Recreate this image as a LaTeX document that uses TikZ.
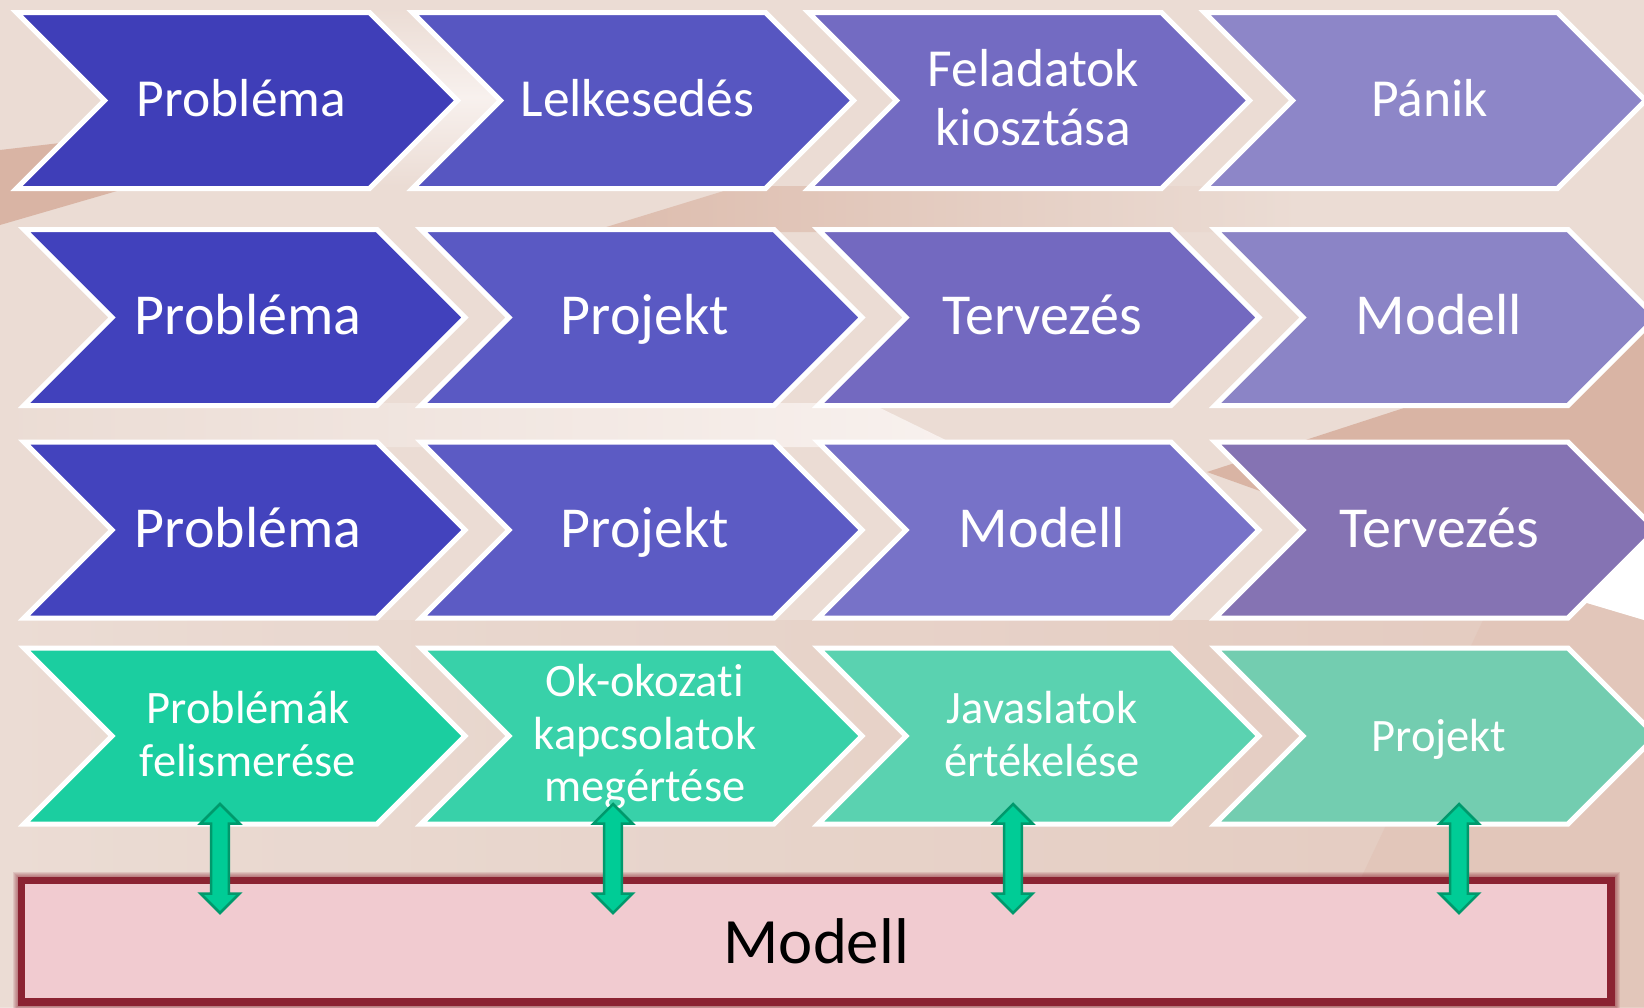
\documentclass[tikz,border=0pt]{standalone}
\usepackage{fontspec}
\setmainfont{Carlito}[Ligatures={NoCommon}]
\usetikzlibrary{calc}
\definecolor{bgbase}{HTML}{EBDCD4}
\definecolor{bgtan}{HTML}{D9B4A4}
\definecolor{bgtanmid}{HTML}{DDBCAD}
\definecolor{bgtanlight}{HTML}{E2C6BA}
\definecolor{bgwhite}{HTML}{F8F1EE}
\definecolor{cA1}{HTML}{3F3EB8}
\definecolor{cA2}{HTML}{5756C1}
\definecolor{cA3}{HTML}{736BC2}
\definecolor{cA4}{HTML}{8D86C8}
\definecolor{cB1}{HTML}{4141BC}
\definecolor{cB2}{HTML}{5A59C3}
\definecolor{cB3}{HTML}{7369C0}
\definecolor{cB4}{HTML}{8B84C6}
\definecolor{cC1}{HTML}{4343BD}
\definecolor{cC2}{HTML}{5C5BC4}
\definecolor{cC3}{HTML}{7772C8}
\definecolor{cC4}{HTML}{8573B3}
\definecolor{cD1}{HTML}{1BCEA0}
\definecolor{cD2}{HTML}{38D1A9}
\definecolor{cD3}{HTML}{5AD2B0}
\definecolor{cD4}{HTML}{73CDB0}
\definecolor{arrdark}{HTML}{00996C}
\definecolor{arrlight}{HTML}{00CC96}
\definecolor{boxborder}{HTML}{8B2332}
\definecolor{boxfill}{HTML}{F1CBD0}
\newcommand\chev[3]{%
  \draw[chevbox, fill=#3] (#1,#2) -- ++(353,0) -- ++(88,88) -- ++(-88,88) -- ++(-353,0) -- ++(88,-88) -- cycle;}
\begin{document}
\begin{tikzpicture}[x=1pt,y=-1pt,
  chevbox/.style={draw=white, line width=5pt, line join=miter},
  lbl/.style={text=white, anchor=base, align=center, inner sep=0pt},
  rowa/.style={lbl, font=\fontsize{53.5}{59}\selectfont},
  rowb/.style={lbl, font=\fontsize{58}{64}\selectfont},
  rowd/.style={lbl, font=\fontsize{46.5}{52.5}\selectfont},
  modellbox/.style={draw=boxborder, fill=boxfill, line width=7.7pt, inner sep=0pt, outer sep=0pt,
    minimum width=1589.5pt, minimum height=121.5pt, font=\fontsize{64.7}{70}\selectfont, text=black},
  glow/.style={draw=boxborder, opacity=0.12},
  dblarr/.style={draw=arrdark, fill=arrlight, line width=2.5pt, line join=miter,
    to path={let \p1=(\tikztostart), \p2=(\tikztotarget) in
      -- (\x1+19.5pt,\y1-19.5pt) -- (\x1+8.8pt,\y1-19.5pt) -- (\x2+8.8pt,\y2+19.5pt)
      -- (\x2+19.5pt,\y2+19.5pt) -- (\x2,\y2) -- (\x2-19.5pt,\y2+19.5pt) -- (\x2-8.8pt,\y2+19.5pt)
      -- (\x1-8.8pt,\y1-19.5pt) -- (\x1-19.5pt,\y1-19.5pt) -- cycle}}]
\useasboundingbox (0,0) rectangle (1644,1007);
\clip (0,0) rectangle (1644,1007);
% background
\fill[bgbase] (0,0) rectangle (1644,1007);
\shade[left color=bgbase, right color=bgtanlight, opacity=0.8] (0,620) rectangle (1644,1007);
\fill[bgtan] (0,150) -- (430,100) -- (0,225) -- cycle;
\shade[left color=bgtanmid, right color=bgbase] (590,232) -- (740,186) -- (1300,186) -- (1300,232) -- cycle;
\shade[left color=bgbase, right color=bgwhite] (0,403) -- (870,403) -- (960,447) -- (0,447) -- cycle;
\shade[top color=bgbase, bottom color=bgbase, middle color=bgwhite] (375,8) rectangle (505,186);
\fill[bgtan] (1207,472) -- (1644,330) -- (1644,545) -- (1503,578) -- cycle;
\fill[bgtanlight] (1503,578) -- (1644,620) -- (1644,1007) -- (1300,1007) -- cycle;
\fill[white] (1503,578) -- (1644,545) -- (1644,620) -- cycle;
% row 1
\chev{16.5}{12.5}{cA1}
\chev{412.5}{12.5}{cA2}
\chev{808.5}{12.5}{cA3}
\chev{1204.5}{12.5}{cA4}
% row 2
\chev{24}{229.5}{cB1}
\chev{421}{229.5}{cB2}
\chev{818}{229.5}{cB3}
\chev{1215}{229.5}{cB4}
% row 3
\chev{24}{442}{cC1}
\chev{421}{442}{cC2}
\chev{818}{442}{cC3}
\chev{1215}{442}{cC4}
% row 4
\chev{24}{648}{cD1}
\chev{421}{648}{cD2}
\chev{818}{648}{cD3}
\chev{1215}{648}{cD4}
% labels (base anchor = baseline of the last line)
\node[rowa] (a1) at (241.5,116.7) {Probléma};
\node[rowa] (a2) at (637.5,116.7) {Lelkesedés};
\node[rowa] (a3) at (1033.5,145) {Feladatok\\kiosztása};
\node[rowa] (a4) at (1429.5,116.7) {Pánik};
\node[rowb] (b1) at (248,334.5) {Probléma};
\node[rowb] (b2) at (645,334.5) {Projekt};
\node[rowb] (b3) at (1042,334.5) {Tervezés};
\node[rowb] (b4) at (1439,334.5) {Modell};
\node[rowb] (c1) at (248,547) {Probléma};
\node[rowb] (c2) at (645,547) {Projekt};
\node[rowb] (c3) at (1042,547) {Modell};
\node[rowb] (c4) at (1439,547) {Tervezés};
\node[rowd] (d1) at (248,776) {Problémák\\felismerése};
\node[rowd] (d2) at (645,801.7) {Ok-okozati\\kapcsolatok\\megértése};
\node[rowd] (d3) at (1042,776) {Javaslatok\\értékelése};
\node[rowd] (d4) at (1439,751) {Projekt};
% model box with glow
\foreach \k in {1,...,5}{
  \draw[glow, line width=7.7pt+2*\k pt] (21.5,880.5) rectangle (1611,1002);
}
\node[modellbox] (modell) at (816.25,941.25) {Modell};
% arrows
\coordinate (t1) at (220,804); \coordinate (u1) at (220,913);
\coordinate (t2) at (613,804); \coordinate (u2) at (613,913);
\coordinate (t3) at (1013,804); \coordinate (u3) at (1013,913);
\coordinate (t4) at (1459,804); \coordinate (u4) at (1459,913);
\path[dblarr] (t1) to (u1);
\path[dblarr] (t2) to (u2);
\path[dblarr] (t3) to (u3);
\path[dblarr] (t4) to (u4);
\end{tikzpicture}
\end{document}
